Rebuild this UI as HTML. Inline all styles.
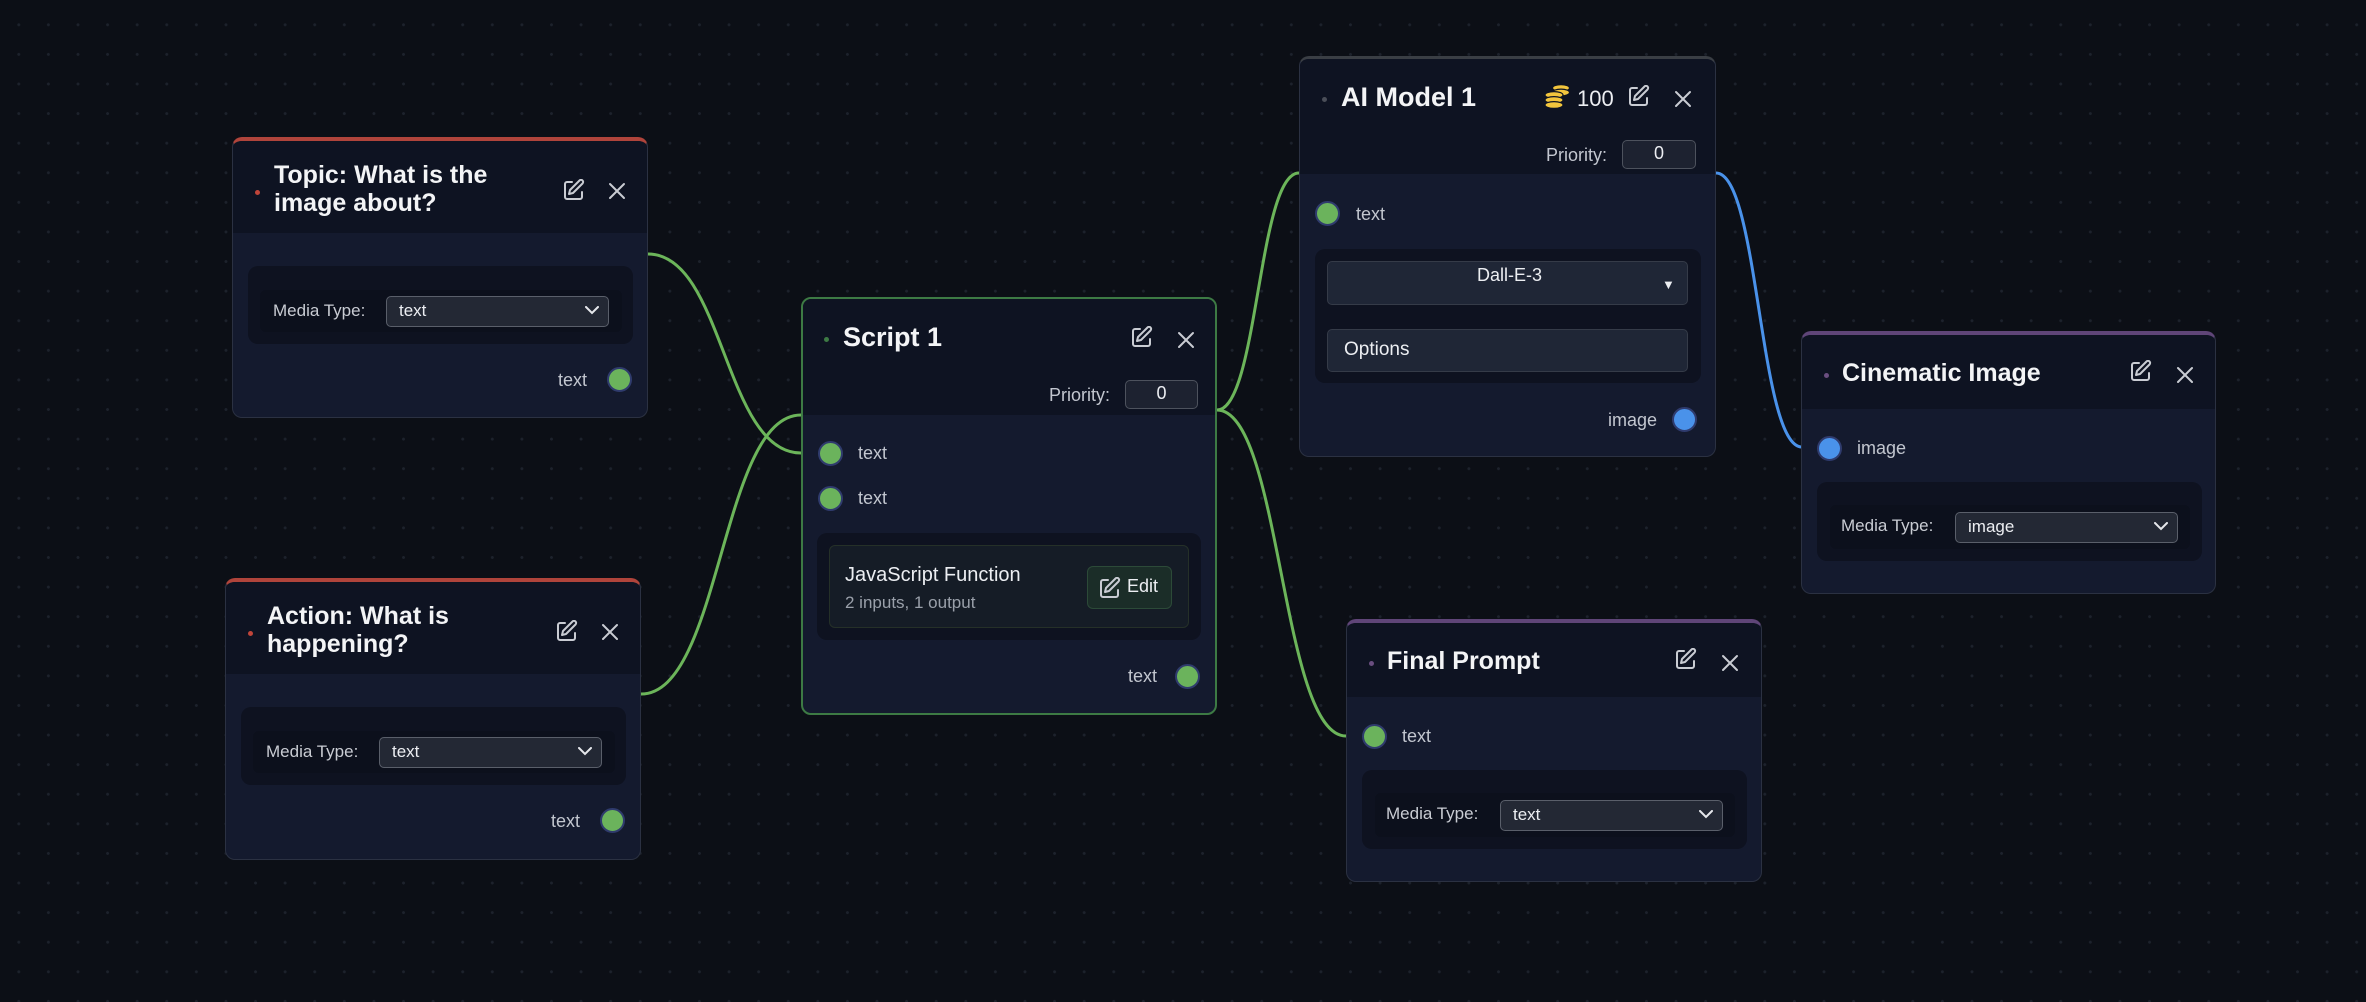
<!DOCTYPE html>
<html><head><meta charset="utf-8"><style>
*{box-sizing:border-box;margin:0;padding:0}
body{width:2366px;height:1002px;overflow:hidden;background:#0c0f16;font-family:"Liberation Sans",sans-serif;position:relative;
background-image:radial-gradient(circle,#1d222c 1.3px,transparent 1.6px);background-size:29.6px 29.6px;background-position:4px 10px}
svg.edges{position:absolute;left:0;top:0}
.n{position:absolute;background:#141a2e;border:1.5px solid #2b3142;border-radius:10px;overflow:hidden}
.n .h{position:absolute;left:0;top:0;right:0;background:#0e1322}
.a{position:absolute}
.t{color:#f3f4f6;font-weight:bold;font-size:25px;line-height:28px;white-space:nowrap}
.dot{width:5px;height:5px;border-radius:50%}
.lbl{color:#c9ccd3;font-size:17px;white-space:nowrap}
.h18{font-size:18px;color:#c2c6cf}
.panel{background:#0e1220;border-radius:10px}
.row{background:#0c101c;border-radius:6px}
.sel{background:#232834;border:1.5px solid #5a5f6a;border-radius:5px;color:#eceef2;font-size:17px;line-height:28px;padding-left:12px}
.sel svg{position:absolute;right:9px;top:9px}
.port{width:25px;height:25px;border-radius:50%;border:2.5px solid #2f3b6d;background:#6bb35c}
.port.b{background:#4a92ea}
.inp{background:#1d2230;border:1.5px solid #4d525d;border-radius:5px;color:#eceef2;font-size:18px;text-align:center;line-height:25px}
</style></head><body>
<svg class="edges" width="2366" height="1002">
<g fill="none" stroke-width="3">
<path d="M648,254 C724,254 724,453 801,453" stroke="#6cb55a"/>
<path d="M641,694 C721,694 721,415 801,415" stroke="#6cb55a"/>
<path d="M1217,410 C1258,410 1258,173 1299,173" stroke="#6cb55a"/>
<path d="M1217,410 C1281,410 1281,736 1346,736" stroke="#6cb55a"/>
<path d="M1716,173 C1759,173 1759,447 1802,447" stroke="#4a92ea"/>
</g></svg>

<svg width="0" height="0" style="position:absolute">
<defs>
<g id="edit" fill="none" stroke="#c9ccd3" stroke-width="2" stroke-linecap="round" stroke-linejoin="round"><path d="M9 3H4a2 2 0 0 0-2 2v13a2 2 0 0 0 2 2h13a2 2 0 0 0 2-2v-5"/><path d="M16.5 1.5a2.1 2.1 0 0 1 3 3L10 14l-4 1 1-4z"/></g>
<g id="close" stroke="#c9ccd3" stroke-width="2" stroke-linecap="round"><path d="M2 2L16 16M16 2L2 16"/></g>
<g id="chev" fill="none" stroke="#e5e7eb" stroke-width="2" stroke-linecap="round"><path d="M1 1l6 6 6-6"/></g>
</defs></svg>

<!-- Topic -->
<div class="n" style="left:232px;top:137px;width:416px;height:281px;border-top:4px solid #b0443b">
 <div class="h" style="height:92px"></div>
 <div class="a dot" style="left:22px;top:49px;background:#c0453a"></div>
 <div class="a t" style="left:41px;top:20px">Topic: What is the<br>image about?</div>
 <svg class="a" style="left:330px;top:38px" width="22" height="22"><use href="#edit"/></svg>
 <svg class="a" style="left:375px;top:41px" width="18" height="18"><use href="#close"/></svg>
 <div class="a panel" style="left:15px;top:125px;width:385px;height:78px"></div>
 <div class="a row" style="left:27px;top:149px;width:362px;height:42px"></div>
 <div class="a lbl" style="left:40px;top:160px">Media Type:</div>
 <div class="a sel" style="left:153px;top:155px;width:223px;height:31px">text<svg width="14" height="9"><use href="#chev"/></svg></div>
 <div class="a h18" style="left:325px;top:229px">text</div>
 <div class="a port" style="left:374px;top:226px"></div>
</div>

<!-- Action -->
<div class="n" style="left:225px;top:578px;width:416px;height:282px;border-top:4px solid #b0443b">
 <div class="h" style="height:92px"></div>
 <div class="a dot" style="left:22px;top:49px;background:#c0453a"></div>
 <div class="a t" style="left:41px;top:20px">Action: What is<br>happening?</div>
 <svg class="a" style="left:330px;top:38px" width="22" height="22"><use href="#edit"/></svg>
 <svg class="a" style="left:375px;top:41px" width="18" height="18"><use href="#close"/></svg>
 <div class="a panel" style="left:15px;top:125px;width:385px;height:78px"></div>
 <div class="a row" style="left:27px;top:149px;width:362px;height:42px"></div>
 <div class="a lbl" style="left:40px;top:160px">Media Type:</div>
 <div class="a sel" style="left:153px;top:155px;width:223px;height:31px">text<svg width="14" height="9"><use href="#chev"/></svg></div>
 <div class="a h18" style="left:325px;top:229px">text</div>
 <div class="a port" style="left:374px;top:226px"></div>
</div>

<!-- Script 1 -->
<div class="n" style="left:801px;top:297px;width:416px;height:418px;border:2px solid #3d7a44">
 <div class="h" style="height:116px"></div>
 <div class="a dot" style="left:21px;top:38px;background:#3d7a44"></div>
 <div class="a t" style="left:40px;top:24px;font-size:27px">Script 1</div>
 <svg class="a" style="left:328px;top:27px" width="22" height="22"><use href="#edit"/></svg>
 <svg class="a" style="left:374px;top:32px" width="18" height="18"><use href="#close"/></svg>
 <div class="a h18" style="left:246px;top:86px">Priority:</div>
 <div class="a inp" style="left:322px;top:81px;width:73px;height:29px">0</div>
 <div class="a port" style="left:15px;top:142px"></div>
 <div class="a h18" style="left:55px;top:144px">text</div>
 <div class="a port" style="left:15px;top:187px"></div>
 <div class="a h18" style="left:55px;top:189px">text</div>
 <div class="a panel" style="left:14px;top:234px;width:384px;height:107px"></div>
 <div class="a" style="left:26px;top:246px;width:360px;height:83px;background:#151c26;border:1.5px solid #253028;border-radius:6px"></div>
 <div class="a" style="left:42px;top:265px;color:#eceef2;font-size:20px">JavaScript Function</div>
 <div class="a" style="left:42px;top:294px;color:#9aa0aa;font-size:17px">2 inputs, 1 output</div>
 <div class="a" style="left:284px;top:267px;width:85px;height:43px;background:#1b2d28;border:1.5px solid #2c4a38;border-radius:6px"></div>
 <svg class="a" style="left:296px;top:278px" width="22" height="22"><use href="#edit" style="stroke:#e5e7eb"/></svg>
 <div class="a" style="left:324px;top:277px;color:#eceef2;font-size:18px">Edit</div>
 <div class="a h18" style="left:325px;top:367px">text</div>
 <div class="a port" style="left:372px;top:365px"></div>
</div>

<!-- AI Model 1 -->
<div class="n" style="left:1299px;top:56px;width:417px;height:401px;border-top:3px solid #3a3e44">
 <div class="h" style="height:115px"></div>
 <div class="a dot" style="left:22px;top:38px;background:#4a4e58"></div>
 <div class="a t" style="left:41px;top:24px;font-size:27px">AI Model 1</div>
 <svg class="a" style="left:243px;top:24px" width="28" height="28"><g fill="#f2c53d" stroke="#0e1322" stroke-width="1.2"><ellipse cx="18" cy="5" rx="8.5" ry="3.4"/><ellipse cx="18" cy="9.5" rx="8.5" ry="3.4"/><ellipse cx="11" cy="12" rx="9" ry="3.4"/><ellipse cx="11" cy="17" rx="9" ry="3.4"/><ellipse cx="11" cy="22" rx="9" ry="3.4"/></g></svg>
 <div class="a" style="left:277px;top:27px;color:#eceef2;font-size:22px">100</div>
 <svg class="a" style="left:328px;top:26px" width="22" height="22"><use href="#edit"/></svg>
 <svg class="a" style="left:374px;top:31px" width="18" height="18"><use href="#close"/></svg>
 <div class="a h18" style="left:246px;top:86px">Priority:</div>
 <div class="a inp" style="left:322px;top:81px;width:74px;height:29px">0</div>
 <div class="a port" style="left:15px;top:142px"></div>
 <div class="a h18" style="left:56px;top:145px">text</div>
 <div class="a panel" style="left:15px;top:190px;width:386px;height:134px"></div>
 <div class="a" style="left:27px;top:202px;width:361px;height:44px;background:#1f2636;border:1.5px solid #353b48;border-radius:5px"></div>
 <div class="a" style="left:177px;top:206px;color:#eceef2;font-size:18px">Dall-E-3</div>
 <div class="a" style="left:362px;top:218px;color:#eceef2;font-size:13px">▼</div>
 <div class="a" style="left:27px;top:270px;width:361px;height:43px;background:#1f2636;border:1.5px solid #353b48;border-radius:5px"></div>
 <div class="a" style="left:44px;top:280px;color:#eceef2;font-size:19px">Options</div>
 <div class="a h18" style="left:308px;top:351px">image</div>
 <div class="a port b" style="left:372px;top:348px"></div>
</div>

<!-- Cinematic Image -->
<div class="n" style="left:1801px;top:331px;width:415px;height:263px;border-top:4px solid #5f4578">
 <div class="h" style="height:74px"></div>
 <div class="a dot" style="left:22px;top:38px;background:#6a4e80"></div>
 <div class="a t" style="left:40px;top:24px">Cinematic Image</div>
 <svg class="a" style="left:328px;top:25px" width="22" height="22"><use href="#edit"/></svg>
 <svg class="a" style="left:374px;top:31px" width="18" height="18"><use href="#close"/></svg>
 <div class="a port b" style="left:15px;top:101px"></div>
 <div class="a h18" style="left:55px;top:103px">image</div>
 <div class="a panel" style="left:15px;top:147px;width:385px;height:79px"></div>
 <div class="a row" style="left:28px;top:170px;width:360px;height:44px"></div>
 <div class="a lbl" style="left:39px;top:181px">Media Type:</div>
 <div class="a sel" style="left:153px;top:177px;width:223px;height:31px">image<svg width="14" height="9"><use href="#chev"/></svg></div>
</div>

<!-- Final Prompt -->
<div class="n" style="left:1346px;top:619px;width:416px;height:263px;border-top:4px solid #5f4578">
 <div class="h" style="height:74px"></div>
 <div class="a dot" style="left:22px;top:38px;background:#6a4e80"></div>
 <div class="a t" style="left:40px;top:24px">Final Prompt</div>
 <svg class="a" style="left:328px;top:25px" width="22" height="22"><use href="#edit"/></svg>
 <svg class="a" style="left:374px;top:31px" width="18" height="18"><use href="#close"/></svg>
 <div class="a port" style="left:15px;top:101px"></div>
 <div class="a h18" style="left:55px;top:103px">text</div>
 <div class="a panel" style="left:15px;top:147px;width:385px;height:79px"></div>
 <div class="a row" style="left:28px;top:170px;width:360px;height:44px"></div>
 <div class="a lbl" style="left:39px;top:181px">Media Type:</div>
 <div class="a sel" style="left:153px;top:177px;width:223px;height:31px">text<svg width="14" height="9"><use href="#chev"/></svg></div>
</div>
</body></html>
